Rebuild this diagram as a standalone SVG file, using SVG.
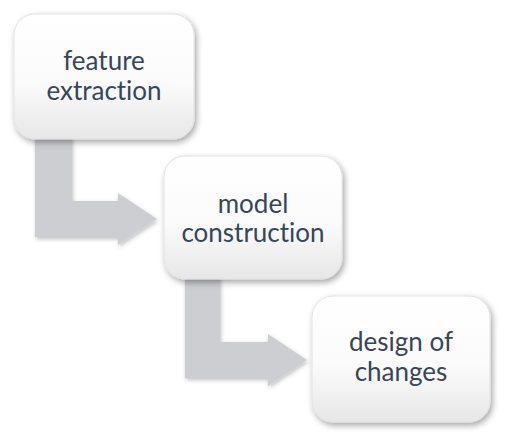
<svg xmlns="http://www.w3.org/2000/svg" width="508" height="440" viewBox="0 0 508 440">
  <defs>
    <linearGradient id="boxFill" x1="0" y1="0" x2="0" y2="1">
      <stop offset="0" stop-color="#ffffff"/>
      <stop offset="0.55" stop-color="#fbfbfb"/>
      <stop offset="1" stop-color="#e7e7e8"/>
    </linearGradient>
    <filter id="shadow" x="-20%" y="-20%" width="140%" height="150%">
      <feDropShadow dx="2" dy="3" stdDeviation="3" flood-color="#000" flood-opacity="0.35"/>
    </filter>
    <filter id="arrowShadow" x="-20%" y="-20%" width="140%" height="150%">
      <feDropShadow dx="1" dy="2" stdDeviation="2" flood-color="#000" flood-opacity="0.25"/>
    </filter>
  </defs>
  <style>
    .box { fill: url(#boxFill); stroke: #e2e2e4; stroke-width: 1; filter: url(#shadow); }
    .arrow { fill: #cdced2; filter: url(#arrowShadow); }
    .label { font-family: "Lato", "Open Sans", "Liberation Sans", sans-serif; font-size: 26px; fill: #36465c; text-anchor: middle; font-variant-ligatures: none; font-feature-settings: "liga" 0, "dlig" 0; }
  </style>
  <rect width="508" height="440" fill="#ffffff"/>
  <g id="connectors">
    <path class="arrow" d="M35,136 L72,136 L72,201 L118,201 L118,193 L157,219 L118,245 L118,237 L35,237 Z"/>
    <path class="arrow" d="M185,276 L220,276 L220,342 L268,342 L268,334 L307,360 L268,386 L268,378 L185,378 Z"/>
  </g>
  <g id="node-feature-extraction">
    <rect class="box" x="14" y="14" width="180" height="125" rx="21" ry="21"/>
    <text class="label" x="104" y="70">feature</text>
    <text class="label" x="104" y="100">extraction</text>
  </g>
  <g id="node-model-construction">
    <rect class="box" x="164" y="156" width="178" height="123" rx="21" ry="21"/>
    <text class="label" x="253" y="213">model</text>
    <text class="label" x="253" y="242">construction</text>
  </g>
  <g id="node-design-of-changes">
    <rect class="box" x="312" y="296" width="178" height="126" rx="21" ry="21"/>
    <text class="label" x="401" y="351">design of</text>
    <text class="label" x="401" y="381">changes</text>
  </g>
</svg>
